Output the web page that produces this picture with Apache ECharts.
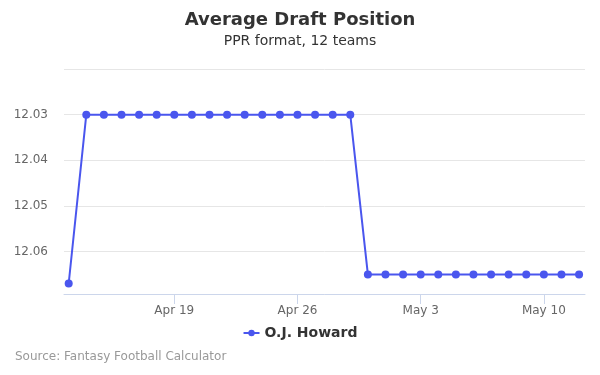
<!DOCTYPE html>
<html>
<head>
<meta charset="utf-8">
<script src="https://cdn.jsdelivr.net/npm/echarts@6/dist/echarts.min.js"></script>
<style>
html,body{margin:0;padding:0;background:#fff;}
#chart{width:600px;height:375px;}
</style>
</head>
<body>
<div id="chart"></div>
<script>
// Daily dates Apr 13 – May 12
const dates = [
  "2020-04-13","2020-04-14","2020-04-15","2020-04-16","2020-04-17","2020-04-18",
  "2020-04-19","2020-04-20","2020-04-21","2020-04-22","2020-04-23","2020-04-24",
  "2020-04-25","2020-04-26","2020-04-27","2020-04-28","2020-04-29","2020-04-30",
  "2020-05-01","2020-05-02","2020-05-03","2020-05-04","2020-05-05","2020-05-06",
  "2020-05-07","2020-05-08","2020-05-09","2020-05-10","2020-05-11","2020-05-12"
];
const adpValues = [
  12.067,12.03,12.03,12.03,12.03,12.03,
  12.03,12.03,12.03,12.03,12.03,12.03,
  12.03,12.03,12.03,12.03,12.03,12.065,
  12.065,12.065,12.065,12.065,12.065,12.065,
  12.065,12.065,12.065,12.065,12.065,12.065
];
const xTickDates = ["2020-04-19","2020-04-26","2020-05-03","2020-05-10"];
const yTickLabels = [12.03, 12.04, 12.05, 12.06];
const seriesName = "O.J. Howard";

function ts(s){ const p = s.split("-").map(Number); return Date.UTC(p[0], p[1]-1, p[2]); }
const HOUR = 3600*1000;
const MONTHS = ["Jan","Feb","Mar","Apr","May","Jun","Jul","Aug","Sep","Oct","Nov","Dec"];
const xTicks = xTickDates.map(ts);

const chart = echarts.init(document.getElementById('chart'), null, {renderer:'canvas'});
chart.setOption({
  animation: false,
  backgroundColor: '#ffffff',
  textStyle: { fontFamily: 'DejaVu Sans' },
  title: [
    { text: 'Average Draft Position', left: 'center', top: 6,
      textStyle: { fontSize: 18, fontWeight: 'bold', color: '#333333', fontFamily: 'DejaVu Sans' } },
    { text: 'PPR format, 12 teams', left: 'center', top: 29,
      textStyle: { fontSize: 14, fontWeight: 'normal', color: '#333333', fontFamily: 'DejaVu Sans' } },
    { text: 'Source: Fantasy Football Calculator', left: 10, top: 346,
      textStyle: { fontSize: 12, fontWeight: 'normal', color: '#999999', fontFamily: 'DejaVu Sans' } }
  ],
  legend: {
    data: [seriesName], left: 'center', top: 321,
    itemWidth: 16, itemHeight: 8, itemGap: 6,
    textStyle: { fontSize: 14, fontWeight: 'bold', color: '#333333', fontFamily: 'DejaVu Sans' }
  },
  grid: { left: 64, right: 15, top: 69, height: 225, containLabel: false },
  xAxis: {
    type: 'value',
    min: ts(dates[0]) - 6.4*HOUR,
    max: ts(dates[dates.length-1]) + 8.1*HOUR,
    axisLine: { show: true, lineStyle: { color: '#ccd6eb', width: 1 } },
    axisTick: { show: true, customValues: xTicks, length: 10, lineStyle: { color: '#ccd6eb' } },
    axisLabel: {
      customValues: xTicks, color: '#666666', fontSize: 12, margin: 11,
      formatter: function(v){ const d = new Date(v); return MONTHS[d.getUTCMonth()] + ' ' + d.getUTCDate(); }
    },
    splitLine: { show: false }
  },
  yAxis: {
    type: 'value', inverse: true,
    min: 12.02, max: 12.0693, interval: 0.01,
    axisLine: { show: false }, axisTick: { show: false },
    axisLabel: {
      color: '#666666', fontSize: 12, margin: 16,
      formatter: function(v){
        const r = Math.round(v*100)/100;
        return yTickLabels.some(t => Math.abs(t - r) < 1e-9) && Math.abs(v - r) < 1e-6 ? r.toFixed(2) : '';
      }
    },
    splitLine: { show: true, lineStyle: { color: '#e6e6e6', width: 1 } }
  },
  series: [{
    name: seriesName, type: 'line',
    data: dates.map((d,i) => [ts(d), adpValues[i]]),
    symbol: 'circle', symbolSize: 8, showSymbol: true,
    lineStyle: { color: '#4a56ee', width: 2 },
    itemStyle: { color: '#4a56ee' }
  }]
});
</script>
</body>
</html>
